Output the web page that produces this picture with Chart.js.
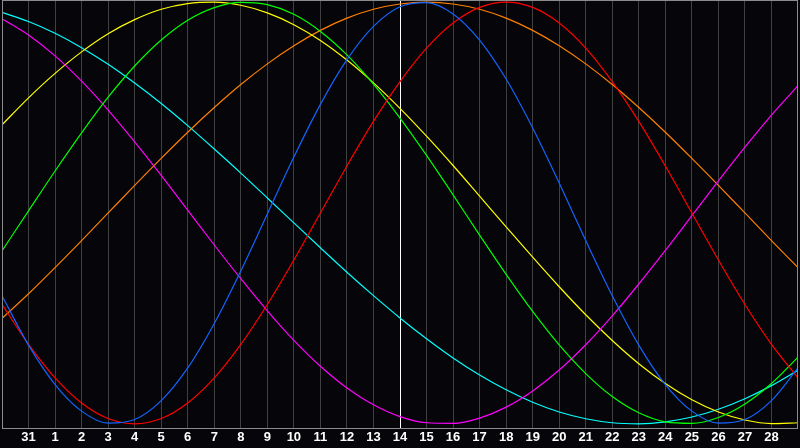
<!DOCTYPE html>
<html>
<head>
<meta charset="utf-8">
<script src="https://cdn.jsdelivr.net/npm/chart.js@4"></script>
<style>
  html, body { margin: 0; padding: 0; background: #060509; }
  #wrap { width: 800px; height: 448px; }
</style>
</head>
<body>
<div id="wrap"><canvas id="bio" width="800" height="448"></canvas></div>
<script>
// day labels, first and last are half-visible days that get no label
const dayLabels = ['', '31', '1', '2', '3', '4', '5', '6', '7', '8', '9', '10', '11', '12', '13', '14',
  '15', '16', '17', '18', '19', '20', '21', '22', '23', '24', '25', '26', '27', '28', ''];
const todayIndex = 15;

// cycle values (percent), one per day
const physical = [-39.3, -62.7, -81.4, -94.0, -99.7, -98.0, -89.0, -73.5, -52.4, -27.5, -0.5,
  26.5, 51.5, 72.7, 88.5, 97.8, 99.8, 94.4, 82.0, 63.5, 40.3, 14.2, -13.1, -39.3, -62.7,
  -81.4, -94.0, -99.7, -98.0, -89.0, -73.5];
const emotional = [-43.4, -62.3, -78.2, -90.1, -97.5, -100, -97.5, -90.1, -78.2, -62.3, -43.4,
  -22.3, 0, 22.3, 43.4, 62.3, 78.2, 90.1, 97.5, 100, 97.5, 90.1, 78.2, 62.3, 43.4,
  22.3, 0, -22.3, -43.4, -62.3, -78.2];
const intellectual = [-18.0, 1.0, 19.9, 38.0, 54.9, 69.7, 82.0, 91.4, 97.4, 99.9, 98.8,
  94.2, 86.1, 75.0, 61.1, 45.0, 27.3, 8.6, -10.5, -29.1, -46.7, -62.6, -76.2, -87.1, -94.8,
  -99.1, -99.8, -97.0, -90.6, -80.9, -68.4];
const intuitive = [92.1, 84.4, 74.5, 62.5, 48.8, 33.7, 17.8, 1.3, -15.2, -31.2, -46.4,
  -60.4, -72.7, -83.0, -91.0, -96.6, -99.5, -99.8, -97.3, -92.1, -84.4, -74.5, -62.5, -48.8, -33.7,
  -17.8, -1.3, 15.2, 31.2, 46.4, 60.4];
const aesthetic = [41.8, 54.6, 66.2, 76.4, 85.0, 91.7, 96.6, 99.3, 100.0, 98.5, 94.9,
  89.3, 81.8, 72.5, 61.7, 49.6, 36.4, 22.5, 8.0, -6.6, -21.0, -35.0, -48.3, -60.5, -71.5,
  -80.9, -88.6, -94.4, -98.2, -99.9, -99.5];
const awareness = [-50.0, -38.3, -25.9, -13.1, 0, 13.1, 25.9, 38.3, 50.0, 60.9, 70.7,
  79.3, 86.6, 92.4, 96.6, 99.1, 100, 99.1, 96.6, 92.4, 86.6, 79.3, 70.7, 60.9, 50.0,
  38.3, 25.9, 13.1, 0, -13.1, -25.9];
const spiritual = [95.1, 90.8, 85.2, 78.4, 70.5, 61.6, 51.9, 41.4, 30.3, 18.9, 7.1,
  -4.7, -16.5, -28.1, -39.2, -49.8, -59.7, -68.8, -76.9, -83.9, -89.8, -94.4, -97.6, -99.5, -100.0,
  -99.1, -96.8, -93.1, -88.1, -81.9, -74.6];

function toPoints(arr) {
  return arr.map((v, i) => ({ x: i, y: v }));
}

function line(label, arr, color) {
  return {
    label: label,
    data: toPoints(arr),
    borderColor: color,
    borderWidth: 1.2,
    pointRadius: 0,
    fill: false,
    cubicInterpolationMode: 'monotone'
  };
}

// gray frame around the plot
const framePlugin = {
  id: 'frame',
  afterDraw(chart) {
    const a = chart.chartArea;
    const ctx = chart.ctx;
    ctx.save();
    ctx.strokeStyle = '#8c8c8c';
    ctx.lineWidth = 1;
    ctx.strokeRect(a.left + 0.5, a.top + 0.5, a.right - a.left - 1, a.bottom - a.top);
    ctx.restore();
  }
};

const bgPlugin = {
  id: 'bg',
  beforeDraw(chart) {
    const ctx = chart.ctx;
    ctx.save();
    ctx.fillStyle = '#060509';
    ctx.fillRect(0, 0, chart.width, chart.height);
    ctx.restore();
  }
};

new Chart(document.getElementById('bio').getContext('2d'), {
  type: 'line',
  data: {
    datasets: [
      line('Physical', physical, '#1464ff'),
      line('Emotional', emotional, '#ff0000'),
      line('Intellectual', intellectual, '#00ff00'),
      line('Intuitive', intuitive, '#ff00ff'),
      line('Aesthetic', aesthetic, '#ffff00'),
      line('Awareness', awareness, '#ff8000'),
      line('Spiritual', spiritual, '#00ffff')
    ]
  },
  options: {
    responsive: false,
    animation: false,
    devicePixelRatio: 1,
    layout: { padding: 0 },
    plugins: {
      legend: { display: false },
      tooltip: { enabled: false }
    },
    scales: {
      x: {
        type: 'linear',
        min: 0,
        max: dayLabels.length - 1,
        border: { display: false },
        grid: {
          drawTicks: false,
          lineWidth: 1,
          color: (c) => {
            const v = c.tick ? c.tick.value : -1;
            if (v === todayIndex) return '#ffffff';
            if (v <= 0 || v >= dayLabels.length - 1) return 'rgba(0,0,0,0)';
            return '#404040';
          }
        },
        ticks: {
          stepSize: 1,
          autoSkip: false,
          maxRotation: 0,
          padding: 2,
          color: '#ffffff',
          font: { family: 'Liberation Sans', size: 13, weight: 'bold' },
          callback: (v) => dayLabels[v]
        },
        afterFit: (s) => { s.height = 20; }
      },
      y: {
        min: -102,
        max: 101,
        border: { display: false },
        grid: {
          drawTicks: false,
          lineWidth: 1,
          color: (c) => (c.tick && c.tick.value === 0 ? '#ffffff' : 'rgba(0,0,0,0)')
        },
        ticks: { display: false, stepSize: 100 },
        afterFit: (s) => { s.width = 0; }
      }
    }
  },
  plugins: [bgPlugin, framePlugin]
});
</script>
</body>
</html>
